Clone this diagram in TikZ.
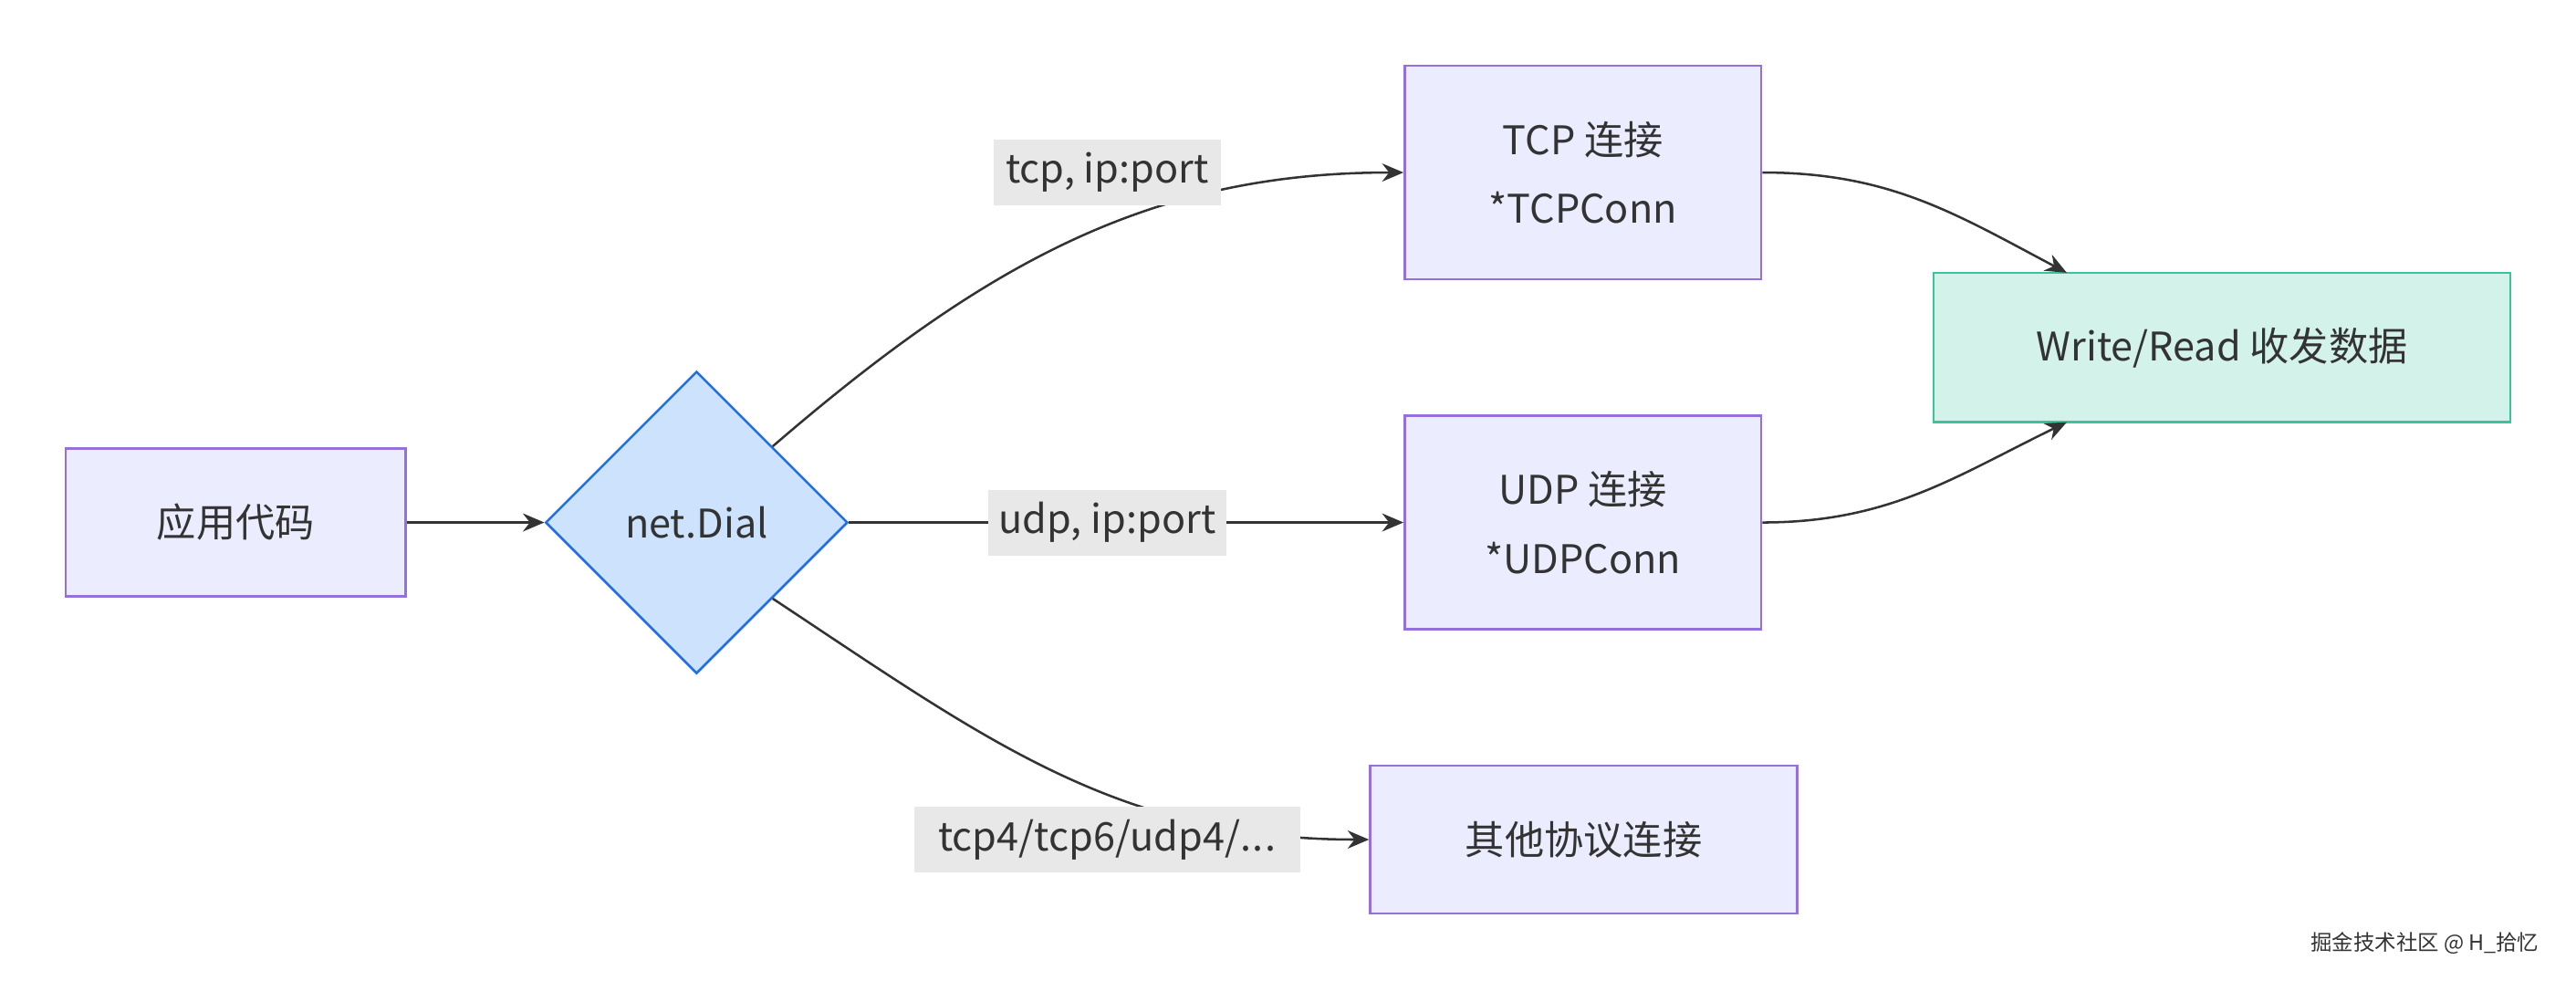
\documentclass[tikz,border=0pt]{standalone}
\usepackage{fontspec}
\setmainfont{Noto Sans CJK SC}
\usetikzlibrary{shapes.geometric,arrows.meta,calc}
\definecolor{pfill}{HTML}{ECECFF}
\definecolor{pline}{HTML}{9370DB}
\definecolor{dfill}{HTML}{CDE2FD}
\definecolor{dline}{HTML}{1F6FE5}
\definecolor{gfill}{HTML}{D3F2EA}
\definecolor{gline}{HTML}{3DC29B}
\definecolor{lbg}{HTML}{E8E8E8}
\definecolor{txt}{HTML}{333333}
\begin{document}
\begin{tikzpicture}[x=1pt,y=-1pt,
  box/.style={draw=pline,fill=pfill,line width=1.4pt,minimum width=#1,minimum height=90pt,inner sep=0pt,text=txt,font=\fontsize{24}{42}\selectfont,align=center},
  lab/.style={fill=lbg,inner sep=0pt,minimum height=40pt,text=txt,font=\fontsize{24}{28}\selectfont},
  edge/.style={draw=txt,line width=1.4pt,-{Stealth[length=13pt,width=11pt]}}]
\useasboundingbox (0,0) rectangle (1568,597);
\node[box=207pt] (app) at (143.5,318) {应用代码};
\node[diamond,draw=dline,fill=dfill,line width=1.4pt,minimum width=184pt,minimum height=184pt,inner sep=0pt,text=txt,font=\fontsize{24}{28}\selectfont] (d) at (424,318) {net.Dial};
\node[box=217pt,minimum height=130pt] (tcp) at (963.5,105) {TCP 连接\\*TCPConn};
\node[box=217pt,minimum height=130pt] (udp) at (963.5,318) {UDP 连接\\*UDPConn};
\node[box=260pt] (oth) at (964,511) {其他协议连接};
\node[box=351pt,draw=gline,fill=gfill,minimum height=91pt] (w) at (1352.5,211.5) {Write/Read 收发数据};
\coordinate (wt) at (1258,166);
\coordinate (wb) at (1258,257);
\draw[edge] (app.east) -- (d.west);
\draw[edge] (d.north east) .. controls (600,160) and (700,105) .. (tcp.west);
\draw[edge] (d.east) -- (udp.west);
\draw[edge] (d.south east) .. controls (600,450) and (680,511) .. (oth.west);
\draw[edge] (tcp.east) .. controls (1150,105) and (1190,130) .. (wt);
\draw[edge] (udp.east) .. controls (1150,318) and (1190,290) .. (wb);
\node[lab,minimum width=138pt] (l1) at (674,105) {tcp, ip:port};
\node[lab,minimum width=145pt] (l2) at (674,318) {udp, ip:port};
\node[lab,minimum width=235pt] (l3) at (674,511) {tcp4/tcp6/udp4/.\kern1pt.\kern1pt.};
\node[text=txt,font=\fontsize{13}{15}\selectfont] (wm) at (1476,574) {掘金技术社区 @ H\_拾忆};
\end{tikzpicture}
\end{document}
